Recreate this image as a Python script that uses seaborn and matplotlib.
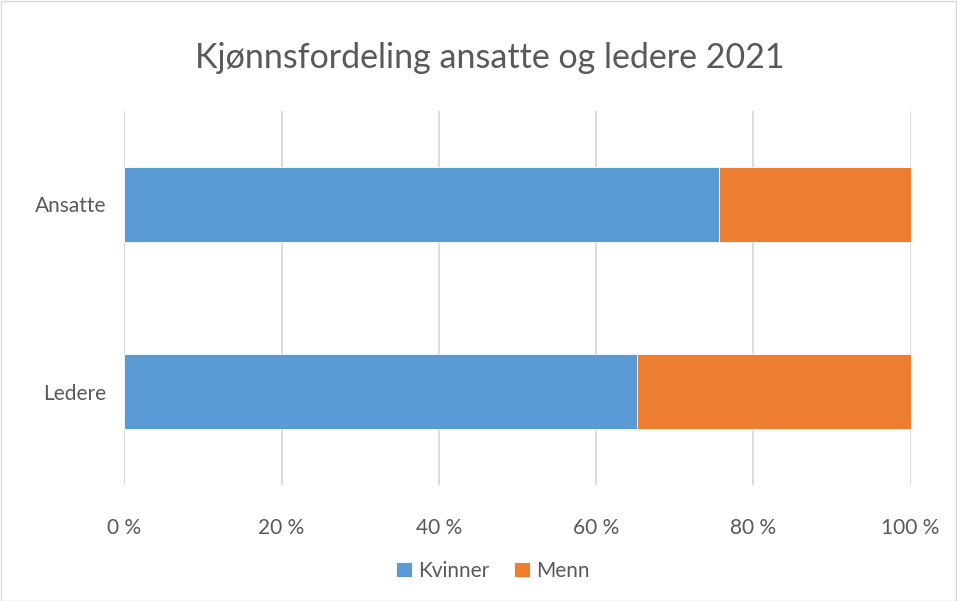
import matplotlib
matplotlib.use("Agg")
import matplotlib.pyplot as plt
import seaborn as sns
import pandas as pd
from matplotlib.patches import Rectangle
from matplotlib.ticker import FuncFormatter

categories = ["Ansatte", "Ledere"]
kvinner = [75.6, 65.2]
menn = [24.4, 34.8]
x_ticks = [0, 20, 40, 60, 80, 100]

BLUE = "#5B9BD5"
ORANGE = "#ED7D31"
TEXT = "#595959"

sns.set_theme(style="white")
plt.rcParams['font.family'] = ['Lato', 'DejaVu Sans']

df = pd.DataFrame({"kategori": categories, "Kvinner": kvinner, "Menn": menn})
df["total"] = df["Kvinner"] + df["Menn"]

fig = plt.figure(figsize=(9.57, 6.01), dpi=100)
ax = fig.add_axes([124.3 / 957, 1 - 485 / 601, (910.6 - 124.3) / 957, 374 / 601])

# stacked: draw totals first (Menn), then Kvinner on top
sns.barplot(data=df, y="kategori", x="total", color=ORANGE, orient="h",
            width=0.4, ax=ax, label="Menn", saturation=1, legend=False)
sns.barplot(data=df, y="kategori", x="Kvinner", color=BLUE, orient="h",
            width=0.4, ax=ax, label="Kvinner", saturation=1, legend=False)
for p in ax.patches:
    p.set_edgecolor("white")
    p.set_linewidth(0.6)

ax.set_xlim(0, 100)
ax.set_ylim(1.5, -0.5)
ax.set_xticks(x_ticks)
ax.xaxis.set_major_formatter(FuncFormatter(lambda v, _: f"{int(v)} %"))
ax.grid(axis="x", color="#D9D9D9", linewidth=1.3)
ax.set_axisbelow(True)
for s in ax.spines.values():
    s.set_visible(False)
ax.tick_params(axis="both", length=0, labelsize=15, labelcolor=TEXT)
ax.tick_params(axis="x", pad=24)
ax.tick_params(axis="y", pad=13)
ax.set_xlabel("")
ax.set_ylabel("")

handles, labels = ax.get_legend_handles_labels()
if ax.get_legend() is not None:
    ax.get_legend().remove()

fig.suptitle("Kjønnsfordeling ansatte og ledere 2021", x=0.512, y=0.93,
             fontsize=24.5, color=TEXT)

order = [labels.index("Kvinner"), labels.index("Menn")]
leg = fig.legend([handles[i] for i in order], [labels[i] for i in order],
                 loc="center", bbox_to_anchor=(0.515, 0.05), ncol=2, frameon=False,
                 fontsize=15, handlelength=0.75, handleheight=0.75, handletextpad=0.3,
                 columnspacing=1.2)
for t in leg.get_texts():
    t.set_color(TEXT)

fig.patches.append(Rectangle((0.5 / 957, 0.5 / 601), 1 - 1.5 / 957, 1 - 1.5 / 601,
                             transform=fig.transFigure, fill=False,
                             edgecolor="#D9D9D9", linewidth=1))

fig.savefig("out.png", dpi=100, facecolor="white")
